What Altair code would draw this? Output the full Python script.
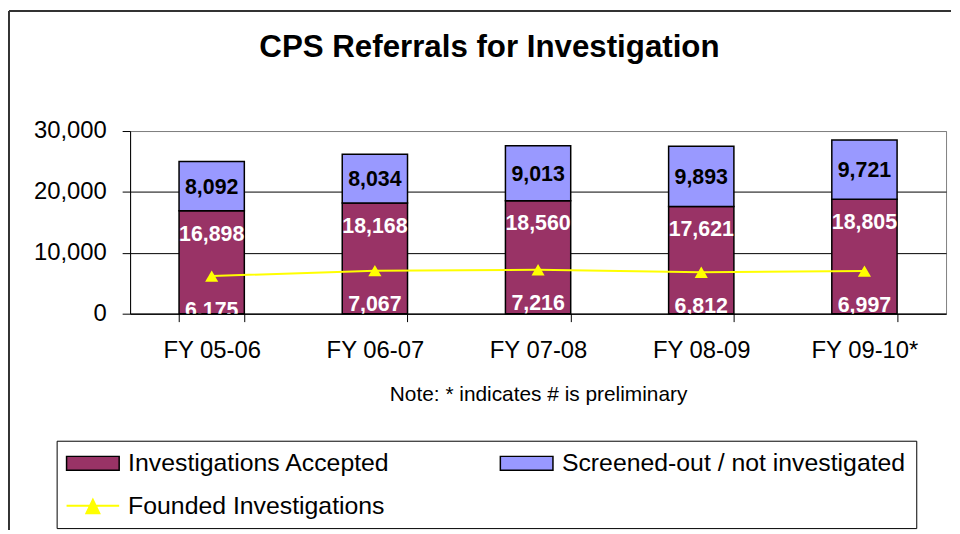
import altair as alt
import pandas as pd

# ---- data ----
years = ["FY 05-06", "FY 06-07", "FY 07-08", "FY 08-09", "FY 09-10*"]
accepted = [16898, 18168, 18560, 17621, 18805]
screened = [8092, 8034, 9013, 9893, 9721]
founded = [6175, 7067, 7216, 6812, 6997]

S_ACC = "Investigations Accepted"
S_SCR = "Screened-out / not investigated"
S_FND = "Founded Investigations"

FONT = "Liberation Sans"

bars_df = pd.DataFrame({
    "year": years * 2,
    "series": [S_ACC] * len(years) + [S_SCR] * len(years),
    "value": accepted + screened,
    "ord": [0] * len(years) + [1] * len(years),
})
wide_df = pd.DataFrame({"year": years, "acc": accepted, "scr": screened, "fnd": founded})

xscale = alt.Scale(paddingInner=0.6, paddingOuter=0.3)
xaxis = alt.Axis(
    title="Note: * indicates # is preliminary", titleFontSize=21, titleFontWeight="normal",
    titlePadding=21, labelFontSize=24, labelAngle=0, labelPadding=17, tickSize=8,
    tickBand="extent", grid=False, domainColor="black", tickColor="black", labelColor="black",
    titleColor="black",
)
yscale = alt.Scale(domain=[0, 30000], nice=False, zero=True)
yaxis = alt.Axis(
    title=None, values=[0, 10000, 20000, 30000], format=",d", labelFontSize=24,
    labelPadding=16, tickSize=8, grid=True,
    gridColor={"condition": {"test": "datum.value >= 30000", "value": "#808080"}, "value": "black"},
    domainColor="black", tickColor="black", labelColor="black",
)


def X():
    return alt.X("year:N", sort=years, scale=xscale, axis=xaxis)


def Y(field):
    return alt.Y(field, scale=yscale, axis=yaxis)


rect_path = "M-1.25,-0.7H4.05V0.7H-1.25Z"
line_path = "M-1.25,0H4.05M0.75,0.75L1.4,-0.6L2.05,0.75Z"

bars = alt.Chart(bars_df).mark_bar(stroke="black", strokeWidth=1.5).encode(
    x=X(),
    y=alt.Y("value:Q", stack="zero", scale=yscale, axis=yaxis),
    order=alt.Order("ord:Q"),
    color=alt.Color(
        "series:N",
        scale=alt.Scale(domain=[S_ACC, S_SCR], range=["#993366", "#9999FF"]),
        legend=alt.Legend(
            orient="none", legendX=-74, legendY=312, columns=2, columnPadding=107,
            rowPadding=0, padding=10, strokeColor="black",
            title=" ", titleOrient="bottom", titleFontSize=25, titlePadding=17,
            symbolType=rect_path, symbolSize=400, symbolStrokeColor="black",
            symbolStrokeWidth=1.5, symbolOffset=0,
            labelFontSize=25, labelOffset=37, labelLimit=0, labelColor="black",
        ),
    ),
)

base = alt.Chart(wide_df)

line = base.transform_calculate(s2="'" + S_FND + "'").mark_line(strokeWidth=2).encode(
    x=X(),
    y=Y("fnd:Q"),
    stroke=alt.Stroke(
        "s2:N",
        scale=alt.Scale(domain=[S_FND], range=["#FFFF00"]),
        legend=alt.Legend(
            orient="none", legendX=-64, legendY=365, title=None, padding=0,
            symbolType=line_path, symbolSize=400, symbolStrokeWidth=2,
            symbolFillColor="#FFFF00", symbolStrokeColor="#FFFF00", symbolOffset=0,
            symbolOpacity=1,
            labelFontSize=25, labelOffset=37, labelLimit=0, labelColor="black",
        ),
    ),
)

points = base.mark_point(shape="triangle-up", filled=True, size=175, color="#FFFF00", opacity=1).encode(
    x=X(), y=Y("fnd:Q"),
)

lbl_scr = base.transform_calculate(mid="datum.acc + datum.scr / 2").mark_text(
    fontSize=21.5, fontWeight="bold", color="black", baseline="alphabetic", dy=7.5
).encode(x=X(), y=Y("mid:Q"), text=alt.Text("scr:Q", format=","))

lbl_acc = base.mark_text(
    fontSize=21.5, fontWeight="bold", color="white", baseline="alphabetic", dy=30
).encode(x=X(), y=Y("acc:Q"), text=alt.Text("acc:Q", format=","))

lbl_fnd = base.mark_text(
    fontSize=21.5, fontWeight="bold", color="white", baseline="alphabetic", dy=41, clip=True
).encode(x=X(), y=Y("fnd:Q"), text=alt.Text("fnd:Q", format=","))

frame_df = pd.DataFrame({"k": [0]})
frame_left = alt.Chart(frame_df).mark_rule(color="#333333", strokeWidth=2).encode(
    x=alt.value(-122), y=alt.value(-121), y2=alt.value(402)
)
frame_top = alt.Chart(frame_df).mark_rule(color="#333333", strokeWidth=2).encode(
    x=alt.value(-122), x2=alt.value(827), y=alt.value(-121)
)

chart = alt.layer(
    frame_left, frame_top, bars, line, points, lbl_scr, lbl_acc, lbl_fnd
).resolve_scale(color="independent").properties(
    width=822, height=184, padding=0,
    title=alt.TitleParams(
        "CPS Referrals for Investigation", fontSize=31.5, fontWeight="bold", font=FONT,
        color="black", anchor="middle", offset=0, dy=54, dx=-49,
    ),
).configure(font=FONT, background="white").configure_view(
    stroke="#808080", strokeWidth=1
)

chart.save("out.html", embed_options={"renderer": "svg", "actions": False})
